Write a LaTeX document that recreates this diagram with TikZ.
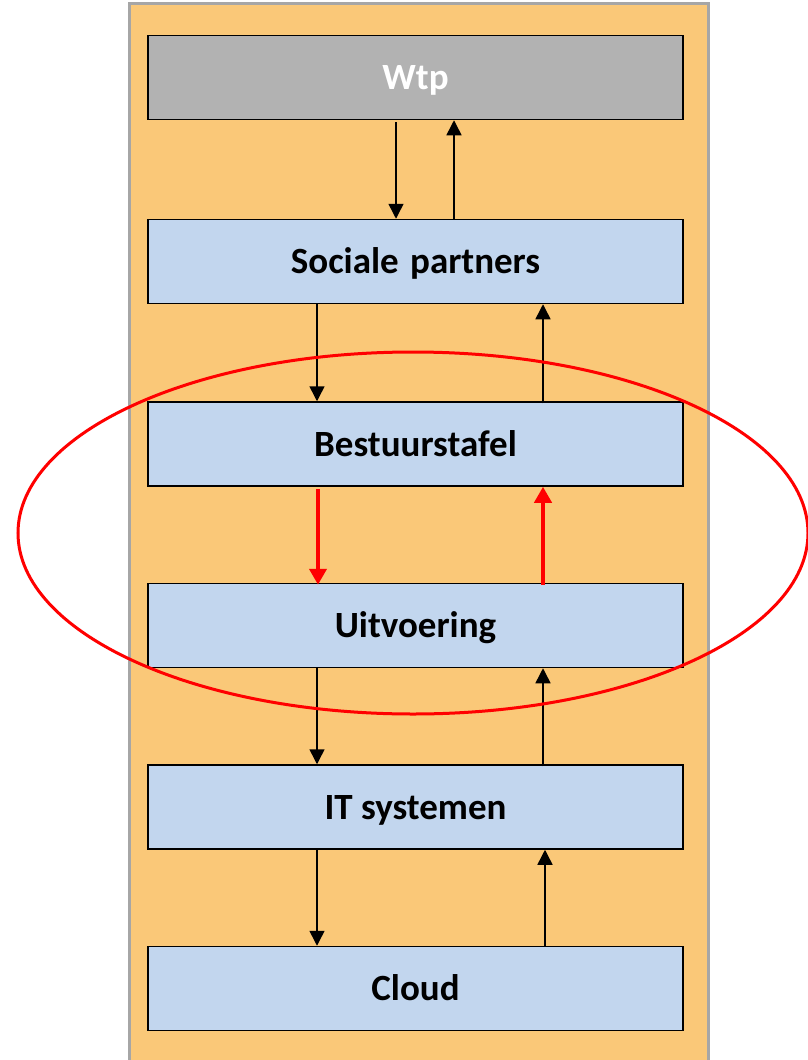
\documentclass[tikz,border=0pt]{standalone}
\usepackage{fontspec}
\setmainfont{Carlito}
\usetikzlibrary{arrows.meta}
\definecolor{bgorange}{RGB}{250,200,120}
\definecolor{boxblue}{RGB}{194,214,238}
\definecolor{boxgray}{RGB}{178,178,178}
\definecolor{framegray}{RGB}{166,166,166}
\tikzset{
  layer/.style={draw=black, line width=1.5pt, fill=boxblue, minimum width=535pt, minimum height=84pt, inner sep=0pt, text height=28pt, text depth=4pt, font=\fontsize{37}{44}\selectfont\bfseries},
  arr/.style={draw=black, line width=1.5pt, -{Triangle[length=15pt,width=15pt]}},
  redarr/.style={draw=red, line width=4pt, -{Triangle[length=16pt,width=17pt]}},
  ring/.style={draw=red, line width=3pt}
}
\begin{document}
\begin{tikzpicture}[x=1pt,y=-1pt]
\useasboundingbox (0,0) rectangle (808,1060);
\fill[bgorange] (129,3) rectangle (708,1064);
\draw[framegray, line width=3pt] (129,1064) -- (129,3) -- (708,3) -- (708,1064);
\node[layer, fill=boxgray, text=white] (wtp) at (415.5,77.5) {Wtp};
\node[layer] (sp) at (415.5,261.5) {Sociale\hspace{0.08em} partners};
\node[layer] (bt) at (415.5,444) {Bestuurstafel};
\node[layer] (uv) at (415.5,625.5) {Uitvoering};
\node[layer] (it) at (415.5,807) {IT systemen};
\node[layer] (cl) at (415.5,988.5) {Cloud};
% arrows
\draw[arr] ([xshift=-19.5pt,yshift=-2pt]wtp.south) -- ([xshift=-19.5pt]sp.north);
\draw[arr] ([xshift=38.5pt]sp.north) -- ([xshift=38.5pt]wtp.south);
\draw[arr] ([xshift=-98.5pt]sp.south) -- ([xshift=-98.5pt]bt.north);
\draw[arr] ([xshift=127.5pt,yshift=-2pt]bt.north) -- ([xshift=127.5pt]sp.south);
\draw[redarr] ([xshift=-97.5pt,yshift=-2pt]bt.south) -- ([xshift=-97.5pt,yshift=-2pt]uv.north);
\draw[redarr] ([xshift=127.5pt,yshift=-2pt]uv.north) -- ([xshift=127.5pt]bt.south);
\draw[arr] ([xshift=-98.5pt]uv.south) -- ([xshift=-98.5pt]it.north);
\draw[arr] ([xshift=127.5pt,yshift=-2pt]it.north) -- ([xshift=127.5pt]uv.south);
\draw[arr] ([xshift=-98.5pt]it.south) -- ([xshift=-98.5pt]cl.north);
\draw[arr] ([xshift=129.5pt]cl.north) -- ([xshift=129.5pt]it.south);
% ellipse
\coordinate (ellc) at (413,533);
\draw[ring] (ellc) ellipse [x radius=395, y radius=181];
\end{tikzpicture}
\end{document}
